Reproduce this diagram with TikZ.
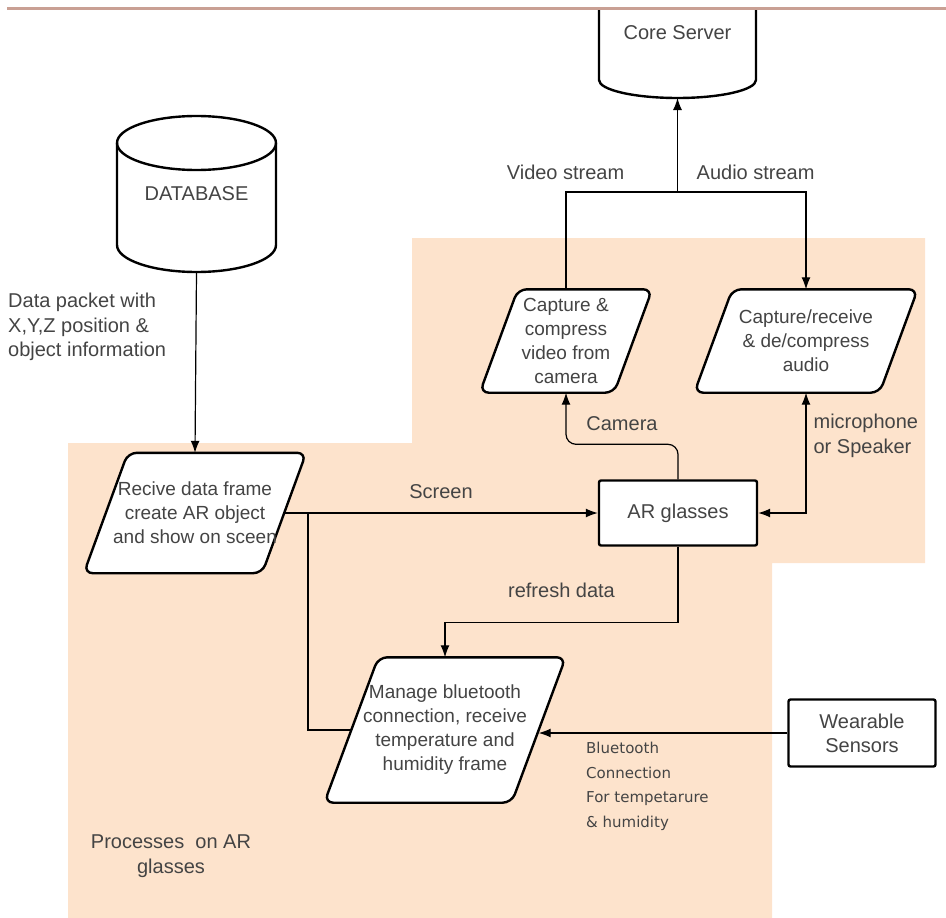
\documentclass[tikz,border=0pt]{standalone}
\usepackage{fontspec}
\setmainfont{Liberation Sans}
\newfontfamily\smallfamily{DejaVu Sans}
\usetikzlibrary{arrows.meta,positioning}
\pgfdeclarelayer{background}
\pgfsetlayers{background,main}
\definecolor{peach}{RGB}{253,227,204}
\definecolor{topline}{RGB}{201,160,148}
\definecolor{txtgray}{RGB}{68,68,68}
\tikzstyle{para}=[align=center,inner sep=0pt,text=txtgray,font=\fontsize{19}{24}\selectfont]
\tikzstyle{para shape}=[draw,line width=2.4pt,fill=white,rounded corners=9pt]
\tikzstyle{box}=[draw,line width=2.4pt,fill=white,rounded corners=2pt,align=center,text=txtgray,font=\fontsize{20}{24}\selectfont]
\tikzstyle{shapeline}=[draw,line width=2.4pt]
\tikzstyle{edge}=[draw,line width=1.2pt,->,>={Latex[length=12pt,width=9pt]}]
\tikzstyle{link}=[draw,line width=1.2pt]
\tikzstyle{lbl}=[text=txtgray,font=\fontsize{20}{24.5}\selectfont,inner sep=0pt]
\tikzstyle{small lbl}=[text=txtgray,font=\smallfamily\fontsize{15}{24.5}\selectfont,align=left,inner sep=0pt]

\begin{document}
\begin{tikzpicture}[x=1pt,y=-1pt]
\useasboundingbox (0,0) rectangle (946,918);

% shaded area of the processes on the glasses
\begin{pgfonlayer}{background}
  \fill[peach] (68,443) -- (412,443) -- (412,238) -- (925,238) -- (925,563)
    -- (772,563) -- (772,918) -- (68,918) -- cycle;
\end{pgfonlayer}

% the two stores
\begin{scope}
  \clip (0,9) rectangle (946,918);
  \path[shapeline,fill=white] (599,0) -- (599,80) arc[start angle=180,end angle=0,x radius=78.5,y radius=18] -- (756,0);
\end{scope}
\draw[topline,line width=3pt] (7,8) -- (946,8);
\node[lbl] (core) at (677.5,33) {Core Server};
\coordinate (corebot) at (677.5,98);

\path[shapeline,fill=white] (117,143) -- (117,245) arc[start angle=180,end angle=0,x radius=79.5,y radius=27] -- (276,143);
\draw[shapeline] (196.5,143) ellipse[x radius=79.5,y radius=27];
\node[lbl,minimum width=159pt,minimum height=156pt] (db) at (196.5,194) {DATABASE};

% then the process steps, the slanted outline goes behind the text
\foreach \pos/\name/\w/\h/\s/\txt in {
    {(195,513)/recive/178/120/22/{Recive data frame\\create AR object\\and show on sceen}},
    {(566,341)/video/134/103/19/{Capture \&\\compress\\video from\\camera}},
    {(806,341)/audio/185/103/19/{Capture/receive\\\& de/compress\\audio}},
    {(445,730)/manage/187/145/27/{Manage bluetooth\\connection, receive\\temperature and\\humidity frame}}}{
  \node[para,minimum width=\w pt,minimum height=\h pt] (\name) at \pos {\txt};
  \begin{pgfonlayer}{background}
    \path[para shape] ([xshift=-\s]\name.south west) -- ([xshift=\s]\name.north west)
      -- ([xshift=\s]\name.north east) -- ([xshift=-\s]\name.south east) -- cycle;
  \end{pgfonlayer}
}

\node[box,minimum width=158pt,minimum height=65pt] (ar) at (678,513) {AR glasses};
\node[box,minimum width=147pt,minimum height=67pt] (wear) at (862,733) {Wearable\\Sensors};

% connectors
\coordinate (fork) at (677.5,192);
\coordinate (branch) at (308,513);
\path[edge] (db.south) -- (recive.north);
\path[edge] (recive.east) -- node[lbl,above=14pt] {Screen} (ar.west);
\path[link] (branch) |- (manage.west);
\path[edge] (ar.south) -- ++(0,76) -| node[lbl,pos=0.25,above=24pt] {refresh data} (manage.north);
\path[edge,rounded corners=10pt] (ar.north) -- ++(0,-35) -| node[lbl,pos=0.25,above=13pt] {Camera} (video.south);
\path[edge,<->] (ar.east) -| node[lbl,pos=0.82,right=7pt,align=left] {microphone\\or Speaker} (audio.south);
\path[edge] (video.north) |- (fork) -| (audio.north);
\path[edge] (fork) -- (corebot);
\path[edge] (wear.west) -- (wear.west -| manage.east);

% free labels
\node[lbl,above left=12pt and 53pt of fork] (vstream) {Video stream};
\node[lbl,above right=12pt and 19pt of fork] (astream) {Audio stream};
\node[lbl,anchor=west,align=left] (pkt) at (8,327) {Data packet with\\X,Y,Z position \&\\object information};
\node[small lbl,anchor=north west] (bt) at (586,742) {Bluetooth\\Connection\\For tempetarure\\\& humidity};
\node[lbl,align=center] (proc) at (171,856) {Processes~ on AR\\glasses};
\end{tikzpicture}
\end{document}
